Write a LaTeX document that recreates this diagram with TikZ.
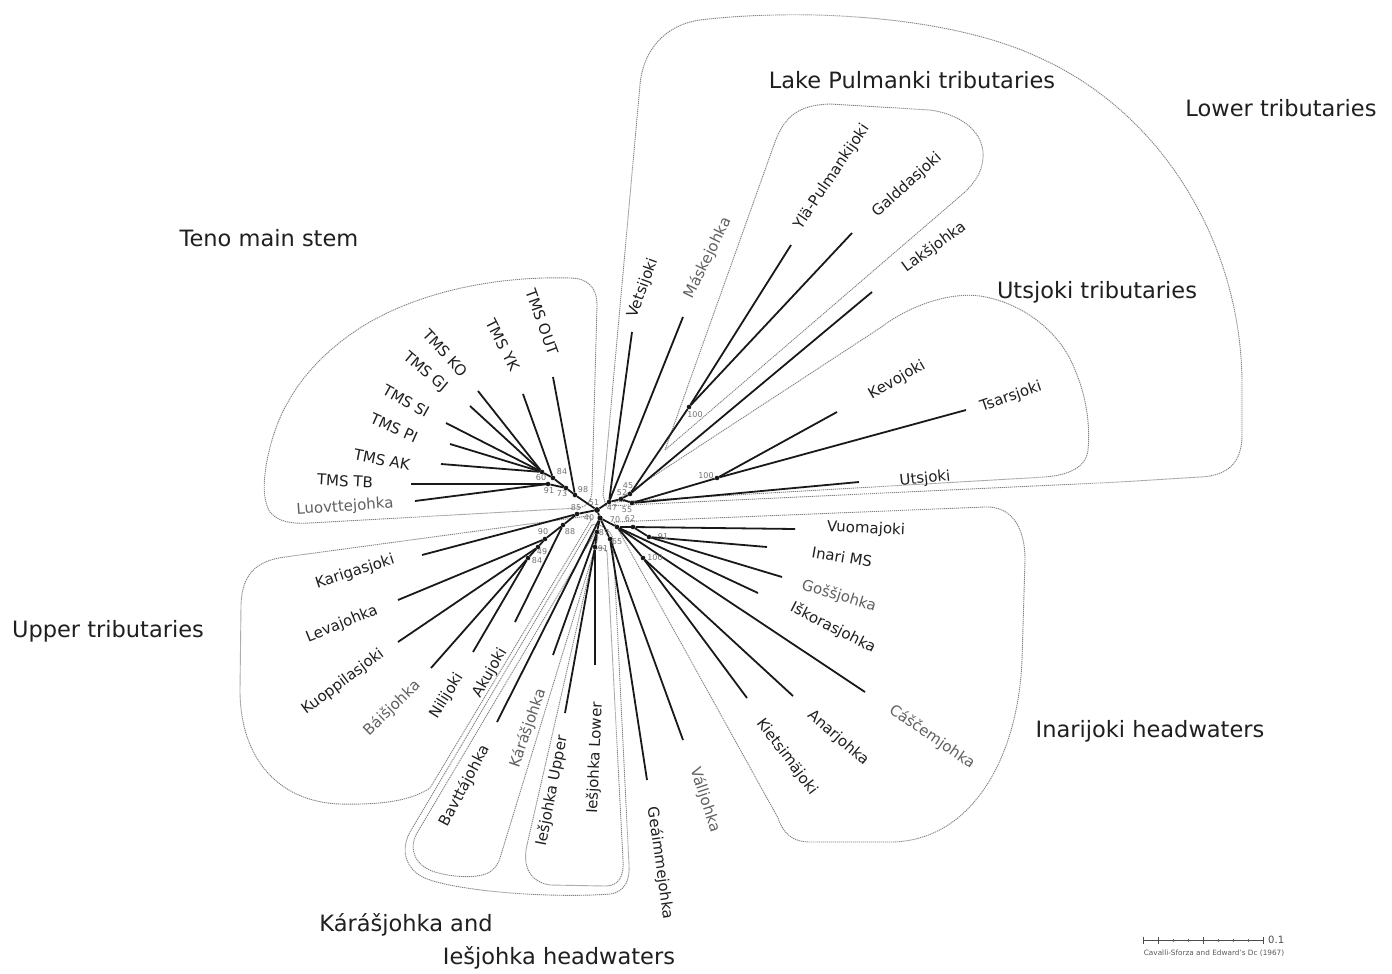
\documentclass[tikz,border=0pt]{standalone}
\usepackage{fontspec}
\setmainfont{DejaVu Sans}
\usetikzlibrary{calc}
\begin{document}
\begin{tikzpicture}[x=1pt,y=-1pt,
  brline/.style={line width=1.8pt, black!90},
  grpline/.style={draw=black!50, line width=0.9pt, dash pattern=on 1.2pt off 0.8pt},
  dotnode/.style={circle, fill=black!90, inner sep=0pt, minimum size=4.6pt},
  leaf/.style={font=\fontsize{15}{18}\selectfont, text=black!88, inner sep=0pt},
  leafgray/.style={leaf, text=black!62},
  clade/.style={font=\fontsize{22.5}{27}\selectfont, text=black!88, inner sep=0pt},
  boot/.style={font=\fontsize{8}{9}\selectfont, text=black!55, inner sep=0pt},
]
\fill[white] (0,0) rectangle (1392,974);
\useasboundingbox (0,0) rectangle (1392,974);

% ---------- group outlines ----------
% Teno main stem
\draw[grpline] (578,508) .. controls (590,506) and (592,498) .. (592,488) -- (597,305)
  .. controls (597,288) and (588,278) .. (570,278)
  .. controls (500,276) and (420,290) .. (360,328)
  .. controls (315,357) and (285,395) .. (272,440)
  .. controls (262,475) and (262,500) .. (270,512)
  .. controls (278,522) and (292,524) .. (310,523) -- cycle;
% Upper tributaries
\draw[grpline] (588,516) -- (285,557) .. controls (255,561) and (242,575) .. (241,605)
  -- (240,690) .. controls (240,760) and (280,802) .. (340,804)
  .. controls (385,805) and (412,800) .. (430,788) -- (590,522)
  .. controls (592,519) and (591,516) .. (588,516) -- cycle;
% Karasjohka and Iesjohka (outer)
\draw[grpline] (592,525) -- (410,832) .. controls (400,850) and (405,872) .. (430,880)
  .. controls (470,893) and (560,898) .. (610,894)
  .. controls (625,892) and (630,880) .. (629,865) -- (613,540)
  .. controls (612,530) and (598,522) .. (592,525) -- cycle;
% Bavttajohka + Karasjohka
\draw[grpline] (596,531) -- (417,833) .. controls (408,849) and (415,866) .. (435,872)
  .. controls (455,878) and (478,878) .. (488,873)
  .. controls (495,869) and (498,864) .. (500,858) -- (598,538) -- cycle;
% Iesjohka Upper + Lower
\draw[grpline] (594,552) -- (527,845) .. controls (522,866) and (530,882) .. (550,885)
  -- (605,886) .. controls (618,886) and (624,878) .. (623,860) -- (607,552)
  .. controls (605,546) and (596,546) .. (594,552) -- cycle;
% Inarijoki headwaters
\draw[grpline] (614,522) -- (985,507) .. controls (1010,506) and (1025,525) .. (1025,560)
  -- (1022,660) .. controls (1018,760) and (970,842) .. (890,842) -- (810,842)
  .. controls (792,842) and (783,833) .. (778,818) -- cycle;
% Lower tributaries
\draw[grpline] (606,506) -- (603,495) -- (640,85) .. controls (643,50) and (665,25) .. (700,20)
  .. controls (800,8) and (950,15) .. (1040,58)
  .. controls (1160,112) and (1240,240) .. (1242,380) -- (1242,435)
  .. controls (1242,465) and (1225,476) .. (1200,477) -- (1120,482) -- cycle;
% Lake Pulmanki tributaries
\draw[grpline] (665,450) -- (775,142) .. controls (785,115) and (800,105) .. (830,104)
  -- (930,110) .. controls (965,115) and (985,135) .. (983,158)
  .. controls (982,172) and (975,182) .. (965,192) -- cycle;
% Utsjoki tributaries
\draw[grpline] (614,502) -- (880,328) .. controls (910,305) and (950,292) .. (980,296)
  .. controls (1020,302) and (1060,330) .. (1075,370)
  .. controls (1088,400) and (1090,430) .. (1088,450)
  .. controls (1086,468) and (1068,475) .. (1045,477) -- cycle;

% ---------- internal nodes ----------
\node[dotnode] (d60) at (542,472) {};
\node[dotnode] (d84) at (553,478) {};
\node[dotnode] (d91) at (548,484) {};
\node[dotnode] (d73) at (566,488) {};
\node[dotnode] (d98) at (575,495) {};
\node[dotnode, minimum size=5.8pt] (d51) at (597,510) {};
\node[dotnode] (d85) at (577,514) {};
\node[dotnode] (d88) at (563,525) {};
\node[dotnode] (d90) at (545,539) {};
\node[dotnode] (d49) at (538,547) {};
\node[dotnode] (d84b) at (528,558) {};
\node[dotnode, minimum size=5.2pt] (d40) at (600,518) {};
\node[dotnode] (d87) at (597,532) {};
\node[dotnode] (d91b) at (595,547) {};
\node[dotnode] (d65) at (610,539) {};
\node[dotnode] (d47) at (609,502) {};
\node[dotnode] (d52) at (621,499) {};
\node[dotnode] (d45) at (630,494) {};
\node[dotnode] (d55) at (632,503) {};
\node[dotnode] (d70) at (617,527) {};
\node[dotnode] (d62) at (633,527) {};
\node[dotnode] (d91c) at (649,537) {};
\node[dotnode] (d100c) at (643,558) {};
\node[dotnode] (d100p) at (689,407) {};
\node[dotnode] (d100u) at (717,478) {};

% ---------- leaf ends ----------
\coordinate (lOUT) at (553,377);
\coordinate (lYK) at (523,394);
\coordinate (lKO) at (478,391);
\coordinate (lGJ) at (470,406);
\coordinate (lSI) at (446,423);
\coordinate (lPI) at (450,444);
\coordinate (lAK) at (441,464);
\coordinate (lTB) at (411,484);
\coordinate (lLuo) at (415,501);
\coordinate (lKar) at (422,555);
\coordinate (lLev) at (398,600);
\coordinate (lKuo) at (398,642);
\coordinate (lBai) at (431,668);
\coordinate (lNil) at (473,652);
\coordinate (lAku) at (515,622);
\coordinate (lBav) at (497,722);
\coordinate (lKara) at (553,655);
\coordinate (lIU) at (565,713);
\coordinate (lIL) at (595,665);
\coordinate (lGea) at (647,780);
\coordinate (lVal) at (683,740);
\coordinate (lKie) at (747,698);
\coordinate (lAna) at (793,696);
\coordinate (lCas) at (865,692);
\coordinate (lIsk) at (758,593);
\coordinate (lGos) at (782,577);
\coordinate (lIna) at (767,547);
\coordinate (lVuo) at (795,529);
\coordinate (lUts) at (859,482);
\coordinate (lTsa) at (966,410);
\coordinate (lKev) at (837,412);
\coordinate (lLak) at (872,292);
\coordinate (lGal) at (852,233);
\coordinate (lYla) at (791,245);
\coordinate (lMas) at (683,317);
\coordinate (lVet) at (632,332);

% ---------- branches ----------
\draw[brline] (d60) -- (lKO);
\draw[brline] (d60) -- (lGJ);
\draw[brline] (d60) -- (lSI);
\draw[brline] (d60) -- (lPI);
\draw[brline] (d60) -- (lAK);
\draw[brline] (d60) -- (d84);
\draw[brline] (d84) -- (lYK);
\draw[brline] (d84) -- (d73);
\draw[brline] (d91) -- (lTB);
\draw[brline] (d91) -- (lLuo);
\draw[brline] (d91) -- (d73);
\draw[brline] (d73) -- (d98);
\draw[brline] (d98) -- (lOUT);
\draw[brline] (d98) -- (d51);
\draw[brline] (d51) -- (d85);
\draw[brline] (d85) -- (lKar);
\draw[brline] (d85) -- (d88);
\draw[brline] (d88) -- (lAku);
\draw[brline] (d88) -- (d90);
\draw[brline] (d90) -- (lLev);
\draw[brline] (d90) -- (d49);
\draw[brline] (d49) -- (lKuo);
\draw[brline] (d49) -- (d84b);
\draw[brline] (d84b) -- (lBai);
\draw[brline] (d84b) -- (lNil);
\draw[brline] (d51) -- (d40);
\draw[brline] (d40) -- (lBav);
\draw[brline] (d40) -- (d87);
\draw[brline] (d87) -- (lKara);
\draw[brline] (d87) -- (d91b);
\draw[brline] (d91b) -- (lIU);
\draw[brline] (d91b) -- (lIL);
\draw[brline] (d40) -- (d65);
\draw[brline] (d65) -- (lGea);
\draw[brline] (d65) -- (lVal);
\draw[brline] (d40) -- (d70);
\draw[brline] (d70) -- (d62);
\draw[brline] (d62) -- (lVuo);
\draw[brline] (d62) -- (d91c);
\draw[brline] (d91c) -- (lIna);
\draw[brline] (d91c) -- (lGos);
\draw[brline] (d70) -- (lIsk);
\draw[brline] (d70) -- (lCas);
\draw[brline] (d70) -- (d100c);
\draw[brline] (d100c) -- (lAna);
\draw[brline] (d100c) -- (lKie);
\draw[brline] (d51) -- (d47);
\draw[brline] (d47) -- (lVet);
\draw[brline] (d47) -- (lMas);
\draw[brline] (d47) -- (d52);
\draw[brline] (d52) -- (d45);
\draw[brline] (d45) -- (d100p);
\draw[brline] (d100p) -- (lYla);
\draw[brline] (d100p) -- (lGal);
\draw[brline] (d45) -- (lLak);
\draw[brline] (d52) -- (d55);
\draw[brline] (d55) -- (lUts);
\draw[brline] (d55) -- (d100u);
\draw[brline] (d100u) -- (lKev);
\draw[brline] (d100u) -- (lTsa);

% ---------- bootstrap values ----------
\node[boot] (b60) at (541,478) {60};
\node[boot] (b84) at (562,472) {84};
\node[boot] (b91) at (549,491) {91};
\node[boot] (b73) at (562,494) {73};
\node[boot] (b98) at (583,490) {98};
\node[boot] (b51) at (594,503) {51};
\node[boot] (b85) at (576,508) {85};
\node[boot] (b40) at (589,518) {40};
\node[boot] (b47) at (612,508) {47};
\node[boot] (b52) at (622,493) {52};
\node[boot] (b45) at (628,486) {45};
\node[boot] (b55) at (627,510) {55};
\node[boot] (b70) at (615,520) {70};
\node[boot] (b62) at (630,519) {62};
\node[boot] (b91c) at (663,537) {91};
\node[boot] (b100c) at (655,558) {100};
\node[boot] (b87) at (604,533) {87};
\node[boot] (b91b) at (603,549) {91};
\node[boot] (b65) at (617,542) {65};
\node[boot] (b90) at (543,532) {90};
\node[boot] (b88) at (570,532) {88};
\node[boot] (b49) at (542,552) {49};
\node[boot] (b84b) at (537,561) {84};
\node[boot] (b100p) at (695,415) {100};
\node[boot] (b100u) at (706,476) {100};

% ---------- leaf labels ----------
\node[leaf, rotate=-70] (tOUT) at (542,322) {TMS OUT};
\node[leaf, rotate=-63] (tYK) at (503,345) {TMS YK};
\node[leaf, rotate=-47] (tKO) at (445,353) {TMS KO};
\node[leaf, rotate=-40] (tGJ) at (425,372) {TMS GJ};
\node[leaf, rotate=-29] (tSI) at (406,401) {TMS SI};
\node[leaf, rotate=-24] (tPI) at (394,428) {TMS PI};
\node[leaf, rotate=-11] (tAK) at (382,460) {TMS AK};
\node[leaf, rotate=-3] (tTB) at (345,481) {TMS TB};
\node[leafgray, rotate=4] (tLuo) at (345,507) {Luovttejohka};
\node[leaf, rotate=18] (tKar) at (355,572) {Karigasjoki};
\node[leaf, rotate=22] (tLev) at (342,624) {Levajohka};
\node[leaf, rotate=37] (tKuo) at (343,682) {Kuoppilasjoki};
\node[leafgray, rotate=44] (tBai) at (392,708) {Báišjohka};
\node[leaf, rotate=58] (tNil) at (447,696) {Nilijoki};
\node[leaf, rotate=60] (tAku) at (490,673) {Akujoki};
\node[leaf, rotate=62] (tBav) at (465,786) {Bavttájohka};
\node[leafgray, rotate=71] (tKara) at (528,728) {Kárášjohka};
\node[leaf, rotate=79] (tIU) at (552,791) {Iešjohka Upper};
\node[leaf, rotate=87.5] (tIL) at (595,758) {Iešjohka Lower};
\node[leaf, rotate=-82] (tGea) at (660,863) {Geáimmejohka};
\node[leafgray, rotate=-72] (tVal) at (705,800) {Válljohka};
\node[leaf, rotate=-53] (tKie) at (787,757) {Kietsimäjoki};
\node[leaf, rotate=-41] (tAna) at (838,738) {Anarjohka};
\node[leafgray, rotate=-34.5] (tCas) at (932,737) {Cáščemjohka};
\node[leaf, rotate=-27] (tIsk) at (833,628) {Iškorasjohka};
\node[leafgray, rotate=-17] (tGos) at (839,596) {Goššjohka};
\node[leaf, rotate=-9.5] (tIna) at (842,557) {Inari MS};
\node[leaf, rotate=-2.6] (tVuo) at (866,529) {Vuomajoki};
\node[leaf, rotate=5.7] (tUts) at (925,479) {Utsjoki};
\node[leaf, rotate=19] (tTsa) at (1011,397) {Tsarsjoki};
\node[leaf, rotate=30] (tKev) at (897,380) {Kevojoki};
\node[leaf, rotate=36] (tLak) at (934,247) {Lakšjohka};
\node[leaf, rotate=42] (tGal) at (907,185) {Galddasjoki};
\node[leaf, rotate=56] (tYla) at (832,177) {Ylä-Pulmankijoki};
\node[leafgray, rotate=64] (tMas) at (708,258) {Máskejohka};
\node[leaf, rotate=70] (tVet) at (643,288) {Vetsijoki};

% ---------- group labels ----------
\node[clade] (cTeno) at (269,238) {Teno main stem};
\node[clade] (cPul) at (912,80) {Lake Pulmanki tributaries};
\node[clade] (cLow) at (1281,108) {Lower tributaries};
\node[clade] (cUts) at (1097,292) {Utsjoki tributaries};
\node[clade] (cUpp) at (108,631) {Upper tributaries};
\node[clade] (cIna) at (1150,731) {Inarijoki headwaters};
\node[clade] (cKar) at (406,925) {Kárášjohka and};
\node[clade] (cIes) at (559,958) {Iešjohka headwaters};

% ---------- scale bar ----------
\coordinate (sb0) at (1143,940);
\coordinate (sb1) at (1263,940);
\draw[line width=0.8pt, black!70] (sb0) -- (sb1);
\foreach \xx in {1143,1158,1203,1263} \draw[line width=1pt, black!70] (\xx,936.5) -- (\xx,943.5);
\foreach \xx in {1173,1188,1218,1233,1248} \draw[line width=0.6pt, black!60] (\xx,938.5) -- (\xx,941.5);
\node[font=\fontsize{10}{12}\selectfont, text=black!70, anchor=west, inner sep=0pt] (sbl) at (1268,940) {0.1};
\node[font=\fontsize{7.3}{9}\selectfont, text=black!65, inner sep=0pt] (sbt) at (1214,953) {Cavalli-Sforza and Edward's Dc (1967)};
\end{tikzpicture}
\end{document}
